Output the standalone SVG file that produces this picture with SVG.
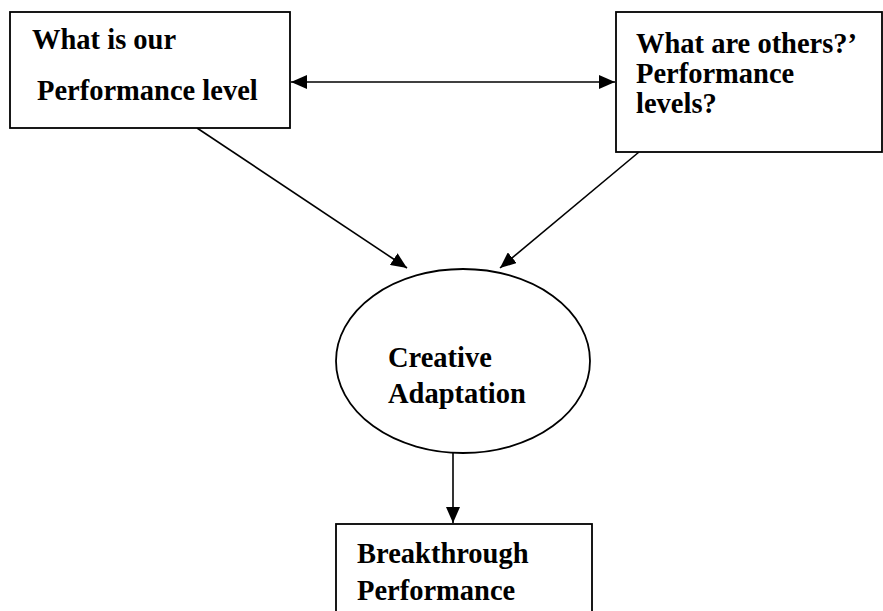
<svg xmlns="http://www.w3.org/2000/svg" width="883" height="611" viewBox="0 0 883 611">
  <style>
    .box { fill: #fff; stroke: #000; stroke-width: 1.8; }
    .lbl { font-family: "Liberation Serif", "Times New Roman", serif; font-weight: bold; font-size: 28.5px; fill: #000; }
    .edge { stroke: #000; stroke-width: 1.6; fill: none; }
  </style>
  <defs>
    <marker id="head" viewBox="0 0 16 14" refX="16" refY="7" markerWidth="16" markerHeight="14" markerUnits="userSpaceOnUse" orient="auto-start-reverse">
      <path d="M0,0 L16,7 L0,14 Z" fill="#000"/>
    </marker>
  </defs>
  <rect width="883" height="611" fill="#fff"/>

  <g id="connectors">
    <line class="edge" x1="291" y1="82" x2="615" y2="82" marker-start="url(#head)" marker-end="url(#head)"/>
    <line class="edge" x1="197" y1="128" x2="407" y2="268" marker-end="url(#head)"/>
    <line class="edge" x1="639" y1="152" x2="500" y2="268" marker-end="url(#head)"/>
    <line class="edge" x1="453" y1="453" x2="453" y2="523" marker-end="url(#head)"/>
  </g>

  <g id="our-performance">
    <rect class="box" x="10" y="12" width="280" height="116"/>
    <text class="lbl" x="32" y="49">What is our</text>
    <text class="lbl" x="37" y="100">Performance level</text>
  </g>

  <g id="others-performance">
    <rect class="box" x="616" y="12" width="266" height="140"/>
    <text class="lbl" x="636" y="53">What are others?’</text>
    <text class="lbl" x="636" y="83">Performance</text>
    <text class="lbl" x="636" y="113">levels?</text>
  </g>

  <g id="creative-adaptation">
    <ellipse class="box" cx="463" cy="361" rx="127" ry="92"/>
    <text class="lbl" x="388" y="367">Creative</text>
    <text class="lbl" x="388" y="403">Adaptation</text>
  </g>

  <g id="breakthrough">
    <rect class="box" x="336" y="524" width="256" height="100"/>
    <text class="lbl" x="357" y="563">Breakthrough</text>
    <text class="lbl" x="357" y="600">Performance</text>
  </g>
</svg>
